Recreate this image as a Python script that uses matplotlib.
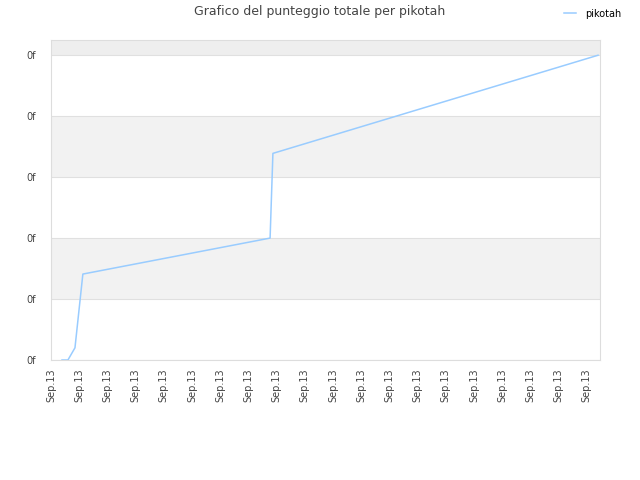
import matplotlib
matplotlib.use('Agg')
import matplotlib.pyplot as plt

# data (x in tick units, y in gridline units)
x_vals = [0.39, 0.60, 0.85, 1.13, 7.77, 7.87, 19.4]
y_vals = [0.0, 0.0, 0.20, 1.41, 2.0, 3.39, 5.0]
x_ticks = list(range(20))
x_labels = ['Sep.13'] * 20
y_ticks = [0, 1, 2, 3, 4, 5]
y_labels = ['0f'] * 6
series_name = 'pikotah'
title = 'Grafico del punteggio totale per pikotah'

fig = plt.figure(figsize=(6.4, 4.8), dpi=100)
ax = fig.add_axes([51 / 640, 120 / 480, 549 / 640, 320 / 480])

ymax = 5.25
ax.set_xlim(0, 19.47)
ax.set_ylim(0, ymax)

# alternating bands
ax.axhspan(1, 2, color='#f2f2f2', zorder=0, lw=0)
ax.axhspan(3, 4, color='#f2f2f2', zorder=0, lw=0)
ax.axhspan(5, ymax, color='#eeeeee', zorder=0, lw=0)
for y in y_ticks:
    ax.axhline(y, color='#e0e0e0', lw=0.8, zorder=1)

ax.plot(x_vals, y_vals, color='#99ccff', lw=1.1, label=series_name, zorder=3)

ax.set_xticks(x_ticks)
ax.set_xticklabels(x_labels, rotation=90, fontsize=7, color='#444444')
ax.set_yticks(y_ticks)
ax.set_yticklabels(y_labels, fontsize=7, color='#444444')
ax.tick_params(axis='x', length=0, pad=6)
ax.tick_params(axis='y', length=0, pad=11)

for s in ax.spines.values():
    s.set_color('#dddddd')
    s.set_linewidth(0.8)

fig.text(0.5, 1 - 12 / 480, title, ha='center', va='center', fontsize=9, color='#444444')
fig.legend(loc='upper right', bbox_to_anchor=(0.985, 1.0), frameon=False, fontsize=7,
           handlelength=1.2, handletextpad=1.0)

fig.savefig('out.png', dpi=100)
plt.close(fig)
